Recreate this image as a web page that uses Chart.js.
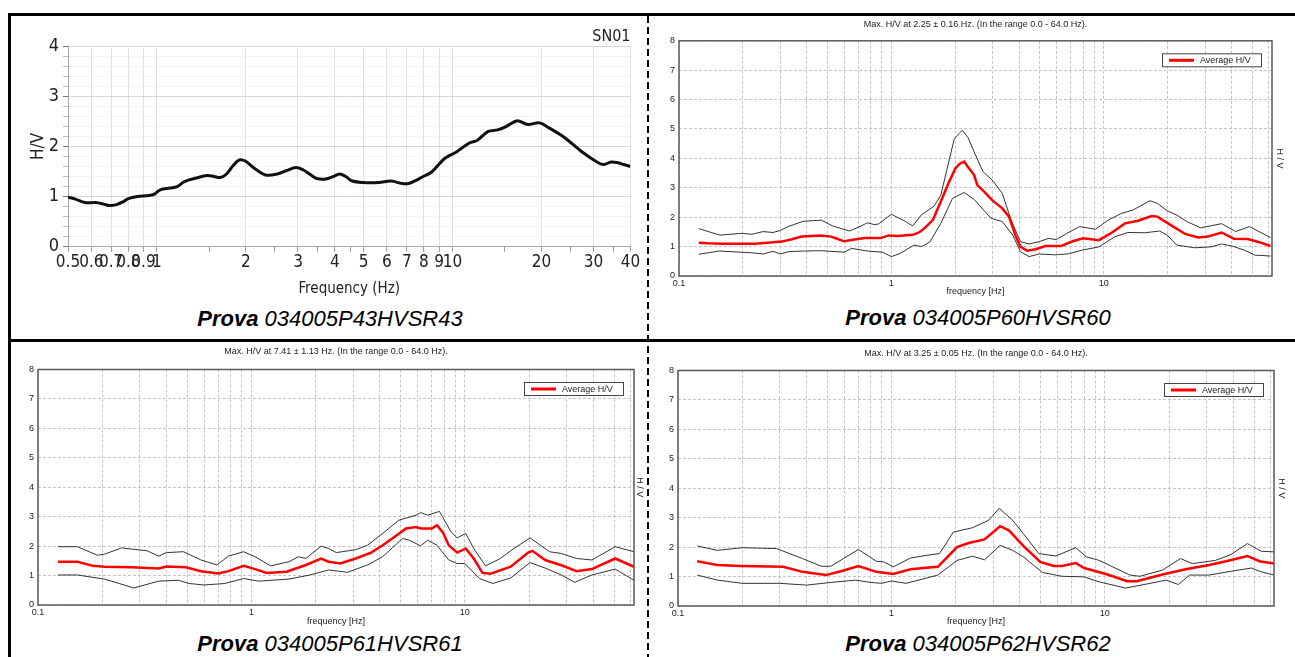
<!DOCTYPE html>
<html>
<head>
<meta charset="utf-8">
<script src="https://cdn.jsdelivr.net/npm/chart.js@4.4.1/dist/chart.umd.min.js"></script>
<style>
body { margin:0; background:#fff; width:1295px; height:657px; position:relative; overflow:hidden; font-family: Arial, "Liberation Sans", sans-serif; }
canvas { position:absolute; }
.ln { position:absolute; background:#000; }
.dash { position:absolute; width:2px; background: repeating-linear-gradient(to bottom, #000 0 7px, transparent 7px 11px); }
.cap { position:absolute; width:400px; text-align:center; font-size:22px; line-height:22px; font-style:italic; color:#000; }
.cap b { font-weight:bold; }
</style>
</head>
<body>
<div class="ln" style="left:8px;top:13px;width:1287px;height:3px"></div>
<div class="ln" style="left:8px;top:13px;width:3px;height:644px"></div>
<div class="ln" style="left:8px;top:339px;width:1287px;height:3px"></div>
<div class="dash" style="left:647px;top:16px;height:641px"></div>

<canvas id="c1" width="632" height="282" style="left:14px;top:18px"></canvas>
<canvas id="c2" width="634" height="282" style="left:652px;top:16px"></canvas>
<canvas id="c3" width="632" height="285" style="left:14px;top:343px"></canvas>
<canvas id="c4" width="637" height="286" style="left:651px;top:343px"></canvas>

<div class="cap" style="left:130px;top:308px"><b>Prova</b> 034005P43HVSR43</div>
<div class="cap" style="left:778px;top:307px"><b>Prova</b> 034005P60HVSR60</div>
<div class="cap" style="left:130px;top:633px"><b>Prova</b> 034005P61HVSR61</div>
<div class="cap" style="left:778px;top:633px"><b>Prova</b> 034005P62HVSR62</div>

<script>
// SN01 (top left)
var sn01Freq = [0.5, 0.53, 0.57, 0.62, 0.66, 0.69, 0.73, 0.77, 0.8, 0.86, 0.94, 0.98, 1.03, 1.11, 1.17, 1.24, 1.36, 1.48, 1.56, 1.64, 1.72, 1.8, 1.9, 1.99, 2.14, 2.33, 2.55, 2.75, 2.95, 3.13, 3.3, 3.47, 3.73, 3.95, 4.15, 4.35, 4.58, 5.0, 5.63, 6.2, 6.75, 7.1, 7.5, 7.9, 8.5, 9.4, 10.3, 11.4, 12.1, 13.2, 14.2, 15.1, 16.5, 18.0, 19.7, 21.2, 23.9, 27.3, 31.2, 32.5, 34.4, 36, 38, 40];
var sn01HV = [0.99, 0.95, 0.88, 0.88, 0.85, 0.82, 0.84, 0.9, 0.96, 1.0, 1.02, 1.05, 1.14, 1.17, 1.2, 1.3, 1.37, 1.42, 1.4, 1.38, 1.45, 1.6, 1.73, 1.71, 1.56, 1.43, 1.45, 1.52, 1.58, 1.53, 1.44, 1.36, 1.35, 1.4, 1.45, 1.4, 1.31, 1.28, 1.28, 1.31, 1.26, 1.26, 1.32, 1.39, 1.49, 1.76, 1.89, 2.07, 2.12, 2.3, 2.33, 2.39, 2.51, 2.44, 2.47, 2.37, 2.18, 1.9, 1.67, 1.64, 1.69, 1.68, 1.64, 1.6];
var sn01Ticks = [0.5, 0.6, 0.7, 0.8, 0.9, 1, 1.5, 2, 2.5, 3, 3.5, 4, 4.5, 5, 6, 7, 8, 9, 10, 15, 20, 25, 30, 35, 40];
var sn01Labels = [0.5, 0.6, 0.7, 0.8, 0.9, 1, 2, 3, 4, 5, 6, 7, 8, 9, 10, 20, 30, 40];

// HVSR60 (top right)
var p60AvgF = [0.124, 0.137, 0.16, 0.2, 0.227, 0.26, 0.304, 0.34, 0.377, 0.42, 0.468, 0.52, 0.56, 0.6, 0.67, 0.75, 0.89, 0.97, 1.07, 1.26, 1.35, 1.43, 1.57, 1.71, 1.84, 2.0, 2.1, 2.2, 2.3, 2.45, 2.54, 2.75, 2.98, 3.33, 3.58, 3.86, 4.05, 4.36, 4.79, 5.3, 6.3, 7.2, 8.0, 9.5, 10.9, 12.6, 14.5, 16.8, 17.9, 20.7, 24.2, 27.8, 30.9, 35.9, 41, 47.7, 54, 61];
var p60AvgV = [1.13, 1.11, 1.1, 1.1, 1.1, 1.13, 1.17, 1.25, 1.34, 1.36, 1.38, 1.34, 1.26, 1.18, 1.24, 1.29, 1.29, 1.38, 1.36, 1.40, 1.48, 1.62, 1.91, 2.53, 3.09, 3.66, 3.82, 3.89, 3.7, 3.44, 3.09, 2.85, 2.58, 2.30, 2.02, 1.34, 1.0, 0.86, 0.91, 1.02, 1.02, 1.19, 1.28, 1.22, 1.47, 1.79, 1.88, 2.04, 2.02, 1.73, 1.43, 1.31, 1.34, 1.48, 1.27, 1.26, 1.15, 1.02];
var p60HiF = [0.124, 0.156, 0.197, 0.22, 0.249, 0.277, 0.3, 0.326, 0.384, 0.468, 0.53, 0.635, 0.72, 0.77, 0.83, 0.87, 1.0, 1.05, 1.17, 1.26, 1.38, 1.59, 1.71, 1.84, 1.98, 2.16, 2.3, 2.45, 2.7, 2.98, 3.33, 3.66, 4.05, 4.45, 4.97, 5.5, 5.98, 6.7, 7.7, 9.15, 10.5, 12.1, 13.7, 16.5, 17.9, 19.9, 22.1, 24.8, 28.6, 35.9, 41.8, 48.5, 61];
var p60HiV = [1.61, 1.39, 1.45, 1.42, 1.51, 1.48, 1.55, 1.68, 1.86, 1.90, 1.70, 1.53, 1.70, 1.81, 1.75, 1.77, 2.1, 2.02, 1.85, 1.70, 2.07, 2.38, 2.75, 3.72, 4.68, 4.96, 4.7, 4.23, 3.55, 3.27, 2.81, 1.91, 1.17, 1.09, 1.17, 1.28, 1.24, 1.45, 1.68, 1.59, 1.90, 2.13, 2.24, 2.56, 2.47, 2.22, 2.07, 1.84, 1.64, 1.78, 1.51, 1.68, 1.31];
var p60LoF = [0.124, 0.155, 0.22, 0.249, 0.277, 0.3, 0.33, 0.39, 0.468, 0.6, 0.65, 0.77, 0.91, 1.0, 1.1, 1.28, 1.39, 1.52, 1.71, 1.94, 2.2, 2.45, 2.95, 3.33, 3.73, 4.05, 4.45, 4.97, 5.9, 6.8, 7.9, 9.5, 11.3, 13, 15.6, 18.3, 19.9, 22.1, 26.8, 32, 35.9, 40.2, 46, 51.5, 61];
var p60LoV = [0.74, 0.85, 0.79, 0.75, 0.84, 0.75, 0.83, 0.85, 0.86, 0.81, 0.94, 0.85, 0.81, 0.66, 0.77, 1.05, 1.0, 1.16, 1.79, 2.64, 2.84, 2.61, 1.96, 1.85, 1.39, 0.83, 0.66, 0.75, 0.72, 0.75, 0.88, 0.99, 1.34, 1.48, 1.47, 1.53, 1.39, 1.05, 0.96, 0.99, 1.09, 1.02, 0.88, 0.71, 0.68];

// HVSR61 (bottom left)
var p61AvgF = [0.124, 0.153, 0.181, 0.205, 0.275, 0.368, 0.4, 0.493, 0.58, 0.7, 0.78, 0.92, 1.04, 1.18, 1.46, 1.8, 2.12, 2.3, 2.61, 3.08, 3.64, 4.12, 4.8, 5.3, 5.9, 6.2, 7.0, 7.4, 7.9, 8.4, 9.2, 10.1, 11.0, 12.1, 13.2, 16.4, 19.8, 20.7, 23.9, 28.3, 33.4, 39.4, 50.6, 62];
var p61AvgV = [1.47, 1.47, 1.33, 1.30, 1.28, 1.24, 1.31, 1.28, 1.15, 1.07, 1.15, 1.33, 1.22, 1.09, 1.13, 1.36, 1.58, 1.47, 1.41, 1.58, 1.78, 2.03, 2.37, 2.6, 2.65, 2.6, 2.6, 2.71, 2.46, 2.03, 1.78, 1.92, 1.58, 1.09, 1.06, 1.30, 1.78, 1.84, 1.52, 1.35, 1.15, 1.22, 1.58, 1.30];
var p61HiF = [0.124, 0.153, 0.19, 0.205, 0.247, 0.325, 0.368, 0.4, 0.48, 0.58, 0.69, 0.78, 0.92, 1.04, 1.23, 1.5, 1.66, 1.8, 2.12, 2.3, 2.5, 3.08, 3.5, 4.12, 4.9, 5.9, 6.2, 6.7, 7.6, 8.6, 9.2, 10.1, 11.0, 12.5, 14.5, 17.0, 20.2, 24.9, 28.3, 33.4, 39.4, 50.6, 62];
var p61HiV = [1.98, 1.98, 1.69, 1.73, 1.94, 1.84, 1.66, 1.78, 1.81, 1.53, 1.36, 1.66, 1.81, 1.64, 1.33, 1.47, 1.64, 1.58, 2.0, 1.92, 1.78, 1.88, 2.03, 2.43, 2.88, 3.05, 3.14, 3.05, 3.18, 2.49, 2.28, 2.43, 1.92, 1.33, 1.56, 1.92, 2.28, 1.81, 1.75, 1.58, 1.53, 1.98, 1.81];
var p61LoF = [0.124, 0.153, 0.205, 0.281, 0.368, 0.454, 0.51, 0.6, 0.75, 0.92, 1.08, 1.5, 1.88, 2.3, 2.82, 3.5, 4.12, 5.1, 5.5, 6.2, 6.7, 7.4, 8.4, 9.2, 10.0, 11.7, 13.5, 16.4, 20.2, 23.9, 28.3, 32.7, 39.4, 50.6, 62];
var p61LoV = [1.02, 1.02, 0.88, 0.58, 0.81, 0.84, 0.73, 0.68, 0.73, 0.90, 0.81, 0.88, 1.02, 1.19, 1.11, 1.36, 1.64, 2.26, 2.2, 2.01, 2.2, 2.03, 1.53, 1.41, 1.41, 0.90, 0.73, 0.92, 1.44, 1.25, 1.02, 0.77, 1.02, 1.22, 0.84];

// HVSR62 (bottom right)
var p62AvgF = [0.123, 0.153, 0.197, 0.311, 0.383, 0.493, 0.58, 0.7, 0.85, 1.02, 1.23, 1.41, 1.65, 2.03, 2.3, 2.73, 3.23, 3.55, 4.15, 4.98, 5.76, 6.3, 7.3, 8.0, 10.3, 12.7, 14.1, 18.6, 23.9, 30.8, 37, 46.5, 53, 62];
var p62AvgV = [1.52, 1.39, 1.36, 1.33, 1.16, 1.05, 1.18, 1.36, 1.16, 1.09, 1.25, 1.29, 1.33, 2.0, 2.14, 2.26, 2.71, 2.57, 2.04, 1.5, 1.36, 1.36, 1.46, 1.29, 1.07, 0.84, 0.84, 1.07, 1.25, 1.39, 1.52, 1.70, 1.52, 1.44];
var p62HiF = [0.123, 0.153, 0.2, 0.29, 0.383, 0.47, 0.52, 0.7, 0.85, 0.92, 1.02, 1.23, 1.46, 1.68, 1.95, 2.4, 2.85, 3.2, 3.7, 4.15, 4.9, 5.9, 7.3, 8.2, 9.4, 13.1, 14.6, 18.6, 22.6, 25.7, 33, 39, 46.5, 54, 62];
var p62HiV = [2.04, 1.89, 1.98, 1.95, 1.61, 1.35, 1.35, 1.92, 1.52, 1.5, 1.33, 1.63, 1.72, 1.78, 2.51, 2.66, 2.91, 3.32, 2.91, 2.46, 1.78, 1.70, 1.98, 1.67, 1.55, 1.05, 1.01, 1.22, 1.61, 1.44, 1.55, 1.75, 2.12, 1.86, 1.84];
var p62LoF = [0.123, 0.153, 0.2, 0.3, 0.4, 0.52, 0.68, 0.8, 0.9, 1.0, 1.17, 1.65, 2.03, 2.4, 2.73, 3.23, 3.7, 4.15, 5.1, 6.3, 8.0, 9.4, 12.5, 14.1, 19.4, 22.1, 24.9, 30.8, 39, 48.6, 53, 62];
var p62LoV = [1.05, 0.88, 0.77, 0.77, 0.71, 0.80, 0.88, 0.80, 0.77, 0.85, 0.77, 1.05, 1.55, 1.69, 1.57, 2.06, 1.89, 1.67, 1.14, 1.01, 0.99, 0.82, 0.61, 0.68, 0.88, 0.73, 1.05, 1.05, 1.18, 1.29, 1.18, 1.05];

var hvTicks = [0.1, 0.2, 0.3, 0.4, 0.5, 0.6, 0.7, 0.8, 0.9, 1, 2, 3, 4, 5, 6, 7, 8, 9, 10, 20, 30, 40, 50, 60];
var hvLabels = [0.1, 1, 10];

var dv = '"DejaVu Sans Condensed", "DejaVu Sans", sans-serif';
var ar = 'Arial, "Liberation Sans", sans-serif';

function pts(f, v) {
    return f.map(function (x, i) { return {x: x, y: v[i]}; });
}
function isInt(v) { return Math.abs(v - Math.round(v)) < 1e-6; }

// grey frame round the plot area
var frame = {
    id: 'frame',
    afterDraw: function (chart) {
        var a = chart.chartArea, c = chart.ctx;
        c.save();
        c.strokeStyle = '#5a5a5a';
        c.lineWidth = 1.5;
        c.strokeRect(a.left, a.top, a.right - a.left, a.bottom - a.top);
        c.restore();
    }
};

// legend drawn in a box inside the top right corner
var boxLegend = {
    id: 'boxLegend',
    afterDraw: function (chart) {
        var a = chart.chartArea, c = chart.ctx;
        var ds = chart.data.datasets[0];
        var w = 99, h = 13;
        var x = a.right - 11 - w, y = a.top + 12.5;
        c.save();
        c.fillStyle = '#fff';
        c.fillRect(x, y, w, h);
        c.strokeStyle = '#444';
        c.lineWidth = 1;
        c.strokeRect(x + 0.5, y + 0.5, w, h);
        c.strokeStyle = ds.borderColor;
        c.lineWidth = 3;
        c.beginPath();
        c.moveTo(x + 7, y + h / 2 + 0.5);
        c.lineTo(x + 32, y + h / 2 + 0.5);
        c.stroke();
        c.fillStyle = '#222';
        c.font = '9px ' + ar;
        c.textBaseline = 'middle';
        c.fillText(ds.label, x + 38, y + h / 2 + 1);
        c.restore();
    }
};

new Chart(document.getElementById('c1'), {
    type: 'line',
    data: {
        datasets: [{
            label: 'SN01',
            data: pts(sn01Freq, sn01HV),
            borderColor: '#111',
            borderWidth: 3,
            pointRadius: 0,
            tension: 0.35
        }]
    },
    options: {
        responsive: false,
        animation: false,
        layout: {padding: {right: 15.5}},
        plugins: {
            legend: {display: false},
            tooltip: {enabled: false},
            title: {display: true, text: 'SN01', align: 'end', fullSize: false, color: '#222',
                font: {family: dv, size: 16, weight: 'normal'}, padding: {top: 9, bottom: 0}}
        },
        scales: {
            x: {
                type: 'logarithmic', min: 0.5, max: 40,
                afterBuildTicks: function (s) { s.ticks = sn01Ticks.map(function (v) { return {value: v}; }); },
                afterFit: function (s) { s.height = 53.3; },
                ticks: {autoSkip: false, maxRotation: 0, padding: 1, color: '#222', font: {family: dv, size: 17},
                    callback: function (v) { return sn01Labels.indexOf(v) >= 0 ? String(v) : ''; }},
                grid: {color: function (c) { return sn01Labels.indexOf(c.tick.value) >= 0 ? '#e2e2e2' : 'rgba(0,0,0,0)'; },
                    tickColor: '#999', tickLength: 5},
                border: {color: '#aaa'},
                title: {display: true, text: 'Frequency (Hz)', color: '#222', font: {family: dv, size: 15}, padding: {top: 0, bottom: 2}}
            },
            y: {
                min: 0, max: 4,
                afterFit: function (s) { s.width = 54; },
                ticks: {stepSize: 0.2, autoSkip: false, padding: 4, color: '#222', font: {family: dv, size: 18},
                    callback: function (v) { return isInt(v) ? String(Math.round(v)) : ''; }},
                grid: {color: function (c) { return isInt(c.tick.value) ? '#d8d8d8' : '#f2f2f2'; },
                    tickColor: function (c) { return isInt(c.tick.value) ? '#777' : '#bbb'; }, tickLength: 5},
                border: {color: '#aaa'},
                title: {display: true, text: 'H/V', color: '#222', font: {family: dv, size: 17}, padding: {top: 14, bottom: 0}}
            }
        }
    }
});

function hvsr(id, title, avg, hi, lo, p) {
    return new Chart(document.getElementById(id), {
        type: 'line',
        data: {
            datasets: [
                {label: 'Average H/V', data: avg, borderColor: '#ff0000', borderWidth: 2.5, pointRadius: 0},
                {label: 'max', data: hi, borderColor: '#333', borderWidth: 1, pointRadius: 0},
                {label: 'min', data: lo, borderColor: '#333', borderWidth: 1, pointRadius: 0}
            ]
        },
        options: {
            responsive: false,
            animation: false,
            plugins: {
                legend: {display: false},
                tooltip: {enabled: false},
                title: {display: true, text: title, fullSize: false, color: '#222',
                    font: {family: ar, size: 9, weight: 'normal'}, padding: {top: p.tt, bottom: p.tb}}
            },
            scales: {
                x: {
                    type: 'logarithmic', min: 0.1, max: 62,
                    afterBuildTicks: function (s) { s.ticks = hvTicks.map(function (v) { return {value: v}; }); },
                    afterFit: function (s) { s.height = p.xh; },
                    ticks: {autoSkip: false, maxRotation: 0, padding: 2, color: '#222', font: {family: ar, size: 9},
                        callback: function (v) { return hvLabels.indexOf(v) >= 0 ? String(v) : ''; }},
                    grid: {color: '#c4c4c4', drawTicks: false},
                    border: {display: false, dash: [3, 2]},
                    title: {display: true, text: 'frequency [Hz]', color: '#222', font: {family: ar, size: 9}, padding: {top: 0, bottom: p.xb}}
                },
                y: {
                    min: 0, max: 8,
                    afterFit: function (s) { s.width = p.yw; },
                    ticks: {stepSize: 1, padding: 4, color: '#222', font: {family: ar, size: 9}},
                    grid: {color: '#c4c4c4', drawTicks: false},
                    border: {display: false, dash: [3, 2]}
                },
                y2: {
                    position: 'right',
                    afterFit: function (s) { s.width = p.rw; },
                    ticks: {display: false},
                    grid: {display: false},
                    border: {display: false},
                    title: {display: true, text: 'H / V', color: '#222', font: {family: ar, size: 9}, padding: {top: 1, bottom: 0}}
                }
            }
        },
        plugins: [frame, boxLegend]
    });
}

hvsr('c2', 'Max. H/V at 2.25 ± 0.16 Hz. (In the range 0.0 - 64.0 Hz).',
    pts(p60AvgF, p60AvgV), pts(p60HiF, p60HiV), pts(p60LoF, p60LoV),
    {tt: 3, tb: 11, xh: 22, xb: 1, yw: 27, rw: 14});
hvsr('c3', 'Max. H/V at 7.41 ± 1.13 Hz. (In the range 0.0 - 64.0 Hz).',
    pts(p61AvgF, p61AvgV), pts(p61HiF, p61HiV), pts(p61LoF, p61LoV),
    {tt: 3, tb: 12.7, xh: 23, xb: 1, yw: 24, rw: 12});
hvsr('c4', 'Max. H/V at 3.25 ± 0.05 Hz. (In the range 0.0 - 64.0 Hz).',
    pts(p62AvgF, p62AvgV), pts(p62HiF, p62HiV), pts(p62LoF, p62LoV),
    {tt: 5.6, tb: 11.1, xh: 23, xb: 1.6, yw: 27, rw: 14});
</script>
</body>
</html>
